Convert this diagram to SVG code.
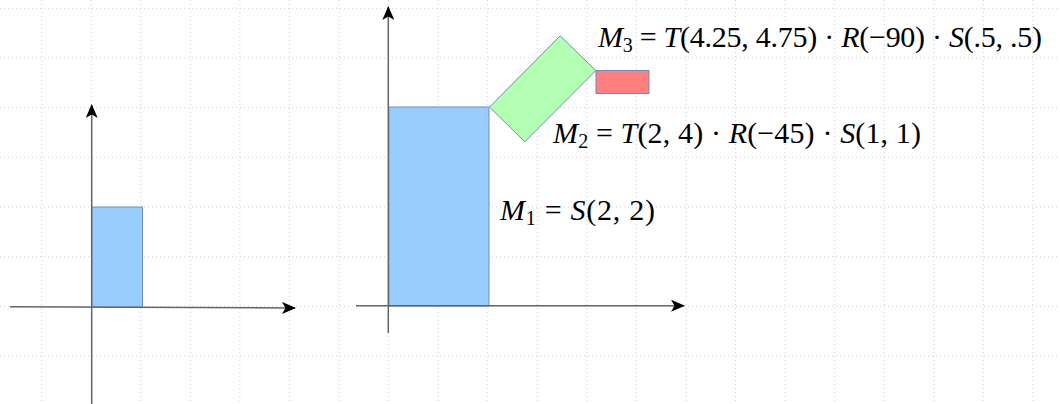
<svg xmlns="http://www.w3.org/2000/svg" width="1060" height="404" viewBox="0 0 1060 404">
<defs>
<style>
.grid line{stroke:#d0d0d0;stroke-width:1;stroke-dasharray:1 3}
.axis{stroke:#666;stroke-width:1.5;fill:none}
.blue{fill:#99ccff;stroke:#6c8ebf;stroke-width:1}
.green{fill:#b3ffb3;stroke:#6c8ebf;stroke-width:1}
.red{fill:#ff8080;stroke:#6c8ebf;stroke-width:1}
.lbl{font-size:30px;fill:#000}
.it{font-style:italic}
.sub{font-size:20px}
</style>
<marker id="arr" viewBox="0 0 14 12" refX="13" refY="6" markerWidth="14" markerHeight="12" markerUnits="userSpaceOnUse" orient="auto">
<path d="M0,0 L14,6 L0,12 L3.5,6 Z" fill="#000"/>
</marker>
</defs>
<rect width="1060" height="404" fill="#fff"/>
<g class="grid">
<line x1="41.7" y1="0" x2="41.7" y2="404"/>
<line x1="91.3" y1="0" x2="91.3" y2="404"/>
<line x1="140.8" y1="0" x2="140.8" y2="404"/>
<line x1="190.4" y1="0" x2="190.4" y2="404"/>
<line x1="239.9" y1="0" x2="239.9" y2="404"/>
<line x1="289.5" y1="0" x2="289.5" y2="404"/>
<line x1="339.1" y1="0" x2="339.1" y2="404"/>
<line x1="388.6" y1="0" x2="388.6" y2="404"/>
<line x1="438.2" y1="0" x2="438.2" y2="404"/>
<line x1="487.7" y1="0" x2="487.7" y2="404"/>
<line x1="537.3" y1="0" x2="537.3" y2="404"/>
<line x1="586.9" y1="0" x2="586.9" y2="404"/>
<line x1="636.4" y1="0" x2="636.4" y2="404"/>
<line x1="686.0" y1="0" x2="686.0" y2="404"/>
<line x1="735.5" y1="0" x2="735.5" y2="404"/>
<line x1="785.1" y1="0" x2="785.1" y2="404"/>
<line x1="834.7" y1="0" x2="834.7" y2="404"/>
<line x1="884.2" y1="0" x2="884.2" y2="404"/>
<line x1="933.8" y1="0" x2="933.8" y2="404"/>
<line x1="983.3" y1="0" x2="983.3" y2="404"/>
<line x1="1032.9" y1="0" x2="1032.9" y2="404"/>
<line x1="0" y1="8.3" x2="1060" y2="8.3"/>
<line x1="0" y1="58.0" x2="1060" y2="58.0"/>
<line x1="0" y1="107.6" x2="1060" y2="107.6"/>
<line x1="0" y1="157.3" x2="1060" y2="157.3"/>
<line x1="0" y1="207.0" x2="1060" y2="207.0"/>
<line x1="0" y1="256.7" x2="1060" y2="256.7"/>
<line x1="0" y1="306.3" x2="1060" y2="306.3"/>
<line x1="0" y1="356.0" x2="1060" y2="356.0"/>
</g>
<g id="left-rect">
<rect class="blue" x="91.7" y="207" width="50.8" height="100.3"/>
</g>
<g id="m1-rect">
<rect class="blue" x="388.8" y="107" width="100.2" height="199"/>
</g>
<g id="m2-rect">
<polygon class="green" points="489.5,107 560.2,35.8 595.8,70.6 524.8,141.8"/>
</g>
<g id="m3-rect">
<rect class="red" x="596" y="70.5" width="53" height="23"/>
</g>
<g id="connectors">
<line class="axis" x1="91.7" y1="404" x2="91.7" y2="105" marker-end="url(#arr)"/>
<line class="axis" x1="10" y1="306.7" x2="295" y2="308" marker-end="url(#arr)"/>
<line class="axis" x1="388.3" y1="333" x2="388.3" y2="7" marker-end="url(#arr)"/>
<line class="axis" x1="356" y1="305.7" x2="684" y2="305.7" marker-end="url(#arr)"/>
</g>
<g id="label-m3">
<text class="lbl" font-family="'Liberation Serif', 'Times New Roman', serif" x="598" y="47" textLength="444"><tspan class="it">M</tspan><tspan class="sub" dy="5">3</tspan><tspan dy="-5"> = </tspan><tspan class="it">T</tspan>(4.25, 4.75) · <tspan class="it">R</tspan>(−90) · <tspan class="it">S</tspan>(.5, .5)</text>
</g>
<g id="label-m2">
<text class="lbl" font-family="'Liberation Serif', 'Times New Roman', serif" x="553" y="143" textLength="368"><tspan class="it">M</tspan><tspan class="sub" dy="5">2</tspan><tspan dy="-5"> = </tspan><tspan class="it">T</tspan>(2, 4) · <tspan class="it">R</tspan>(−45) · <tspan class="it">S</tspan>(1, 1)</text>
</g>
<g id="label-m1">
<text class="lbl" font-family="'Liberation Serif', 'Times New Roman', serif" x="500" y="220" textLength="155"><tspan class="it">M</tspan><tspan class="sub" dy="5">1</tspan><tspan dy="-5"> = </tspan><tspan class="it">S</tspan>(2, 2)</text>
</g>
</svg>
